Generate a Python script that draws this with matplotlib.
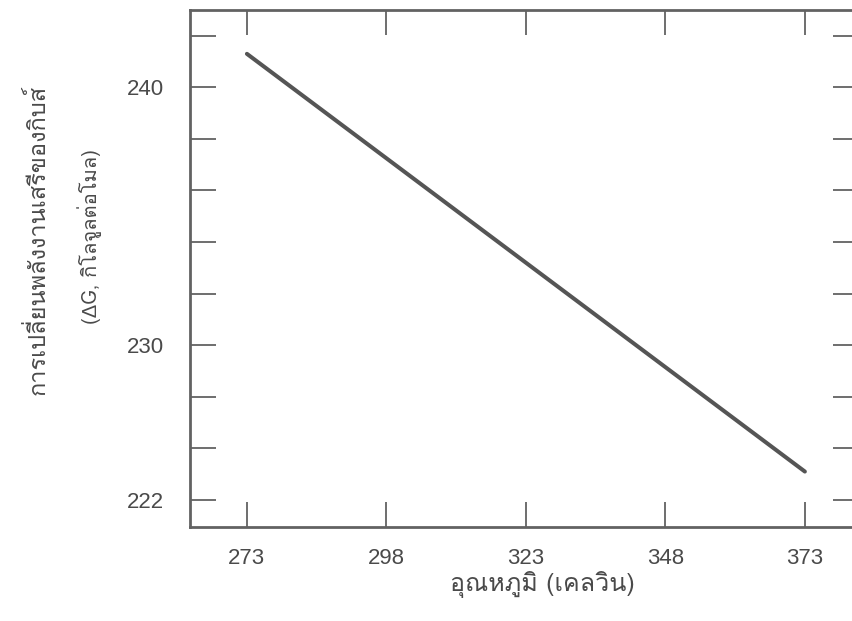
import matplotlib
matplotlib.use("Agg")
import matplotlib.pyplot as plt
from matplotlib import font_manager, ft2font

# ---- data ----
temperature = [273, 373]            # K
delta_g = [241.3, 225.1]            # plotted in axis units
x_ticks = [273, 298, 323, 348, 373]
x_tick_labels = ["273", "298", "323", "348", "373"]
y_ticks = [224, 226, 228, 230, 232, 234, 236, 238, 240, 242]
y_tick_labels = ["222", "", "", "230", "", "", "", "", "240", ""]
x_label = "อุณหภูมิ (เคลวิน)"
y_label_1 = "การเปลี่ยนพลังงานเสรีของกิบส์"
y_label_2 = "(ΔG, กิโลจูลต่อโมล)"

# find a font with Thai glyphs
thai_fams = []
for f in font_manager.fontManager.ttflist:
    try:
        if 0x0E01 in ft2font.FT2Font(f.fname).get_charmap():
            if f.name not in thai_fams:
                thai_fams.append(f.name)
    except Exception:
        pass
pref = [n for n in ["Loma", "Garuda", "Anuphan"] if n in thai_fams] + thai_fams

plt.rcParams["font.family"] = ["Liberation Sans"] + pref + ["DejaVu Sans"]
thai_family = pref[:1] + ["Liberation Sans", "DejaVu Sans"]

col = "#626262"
tcol = "#6e6e6e"
txt = "#4a4a4a"
fig = plt.figure(figsize=(8.52, 6.21), dpi=100)
ax = fig.add_axes([190/852, 1-527/621, (859-190)/852, (527-10)/621])

ax.plot(temperature, delta_g, color="#555555", lw=2.9, solid_capstyle="round")
ax.set_xlim(262.8, 382.7)
ax.set_ylim(222.95, 243.0)

ax.set_xticks(x_ticks)
ax.set_xticklabels(x_tick_labels)
ax.set_yticks(y_ticks)
ax.set_yticklabels(y_tick_labels)

for s in ax.spines.values():
    s.set_color(col)
    s.set_linewidth(2.0)

ax.tick_params(axis="x", direction="in", length=18, width=1.4, color=tcol,
               top=True, bottom=True, labelsize=16, labelcolor=txt, pad=15)
ax.tick_params(axis="y", direction="in", length=19, width=1.4, color=tcol,
               left=True, right=True, labelsize=16, labelcolor=txt, pad=19)

fig.text(542/852, 1-584/621, x_label, ha="center", va="center",
         fontsize=18, color=txt, family=thai_family)
fig.text(38/852, 1-240/621, y_label_1, ha="center", va="center",
         rotation=90, fontsize=17, color=txt, family=thai_family)
fig.text(90/852, 1-237/621, y_label_2, ha="center", va="center",
         rotation=90, fontsize=14.5, color=txt, family=thai_family)

fig.savefig("out.png", dpi=100)
